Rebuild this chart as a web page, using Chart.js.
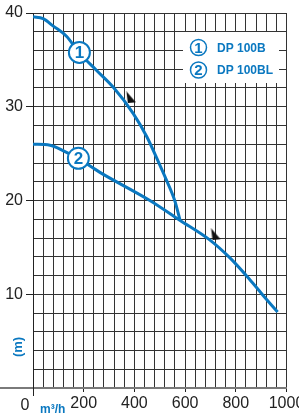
<!DOCTYPE html>
<html>
<head>
<meta charset="utf-8">
<script src="https://cdn.jsdelivr.net/npm/chart.js@4.4.1/dist/chart.umd.min.js"></script>
<style>
html,body{margin:0;padding:0;background:#fff;}
#wrap{position:relative;width:299px;height:417px;}
</style>
</head>
<body>
<div id="wrap"><canvas id="c" width="299" height="417"></canvas></div>
<script>
// ---- data ----
const flow1 = [0, 40, 80, 133, 181, 250, 316, 395, 449, 500, 526, 559, 580];
const head1 = [39.6, 39.4, 38.6, 37.5, 35.8, 33.9, 32.1, 29.3, 26.8, 23.8, 22.2, 20.0, 17.9];
const flow2 = [0, 67, 120, 177, 264, 461, 579, 697, 776, 854, 907, 965];
const head2 = [26.0, 25.9, 25.3, 24.5, 23.0, 20.0, 17.9, 15.8, 13.9, 11.6, 9.9, 8.1];
const seriesNames = ['DP 100B', 'DP 100BL'];
const seriesNumbers = ['1', '2'];
const tagFlow = [183, 179];
const tagHead = [35.8, 24.5];
const arrowFlow = [386, 720];
const arrowHead = [31.0, 16.4];
const xTickLabels = [200, 400, 600, 800, 1000];
const yTickLabels = [10, 20, 30, 40];
const xUnit = 'm³/h';
const yUnit = '(m)';

const BLUE = '#0a78c0';
const FONT = '"Liberation Sans Narrow", "Liberation Sans", sans-serif';

function pts(xs, ys){ return xs.map((x,i)=>({x:x, y:ys[i]})); }

// arrow marker image
const arrowImg = document.createElement('canvas');
arrowImg.width = 12; arrowImg.height = 12;
(function(){
  const g = arrowImg.getContext('2d');
  g.fillStyle = '#111';
  g.beginPath();
  g.moveTo(1.5, 0);
  g.lineTo(11, 11);
  g.lineTo(3, 12);
  g.closePath();
  g.fill();
})();

const overlay = {
  id: 'overlay',
  afterDraw(chart){
    const ctx = chart.ctx;
    const xs = chart.scales.x, ys = chart.scales.y;
    const ca = chart.chartArea;
    ctx.save();
    // axis extension at y=0
    ctx.strokeStyle = '#7a7a7a';
    ctx.lineWidth = 2;
    ctx.beginPath();
    ctx.moveTo(0, ys.getPixelForValue(0));
    ctx.lineTo(ca.left, ys.getPixelForValue(0));
    ctx.stroke();
    ctx.strokeStyle = '#222';
    ctx.lineWidth = 1;
    ctx.beginPath();
    ctx.moveTo(Math.round(xs.getPixelForValue(0)) + 0.5, ys.getPixelForValue(0));
    ctx.lineTo(Math.round(xs.getPixelForValue(0)) + 0.5, ys.getPixelForValue(0) + 8);
    ctx.stroke();

    // zero label and units
    ctx.fillStyle = '#222';
    ctx.font = '16px ' + FONT;
    ctx.textAlign = 'center';
    ctx.textBaseline = 'alphabetic';
    ctx.fillText('0', xs.getPixelForValue(0) - 8, 410);

    ctx.fillStyle = BLUE;
    ctx.font = 'bold 12px ' + FONT;
    ctx.textAlign = 'left';
    ctx.fillText(xUnit, 40, 413);

    ctx.save();
    ctx.translate(22, 347);
    ctx.rotate(-Math.PI/2);
    ctx.textAlign = 'center';
    ctx.font = 'bold 13px ' + FONT;
    ctx.fillText(yUnit, 0, 0);
    ctx.restore();

    // curve tags numbers
    [2,3].forEach((di, k) => {
      const el = chart.getDatasetMeta(di).data[0];
      ctx.fillStyle = BLUE;
      ctx.font = 'bold 17px ' + FONT;
      ctx.textAlign = 'center';
      ctx.textBaseline = 'middle';
      ctx.fillText(seriesNumbers[k], el.x, el.y + 1);
    });

    // legend box
    ctx.fillStyle = '#fff';
    ctx.fillRect(183, 32, 96, 51);
    seriesNames.forEach((name, k) => {
      const cy = 47.5 + k * 22.5;
      ctx.strokeStyle = BLUE;
      ctx.lineWidth = 1.5;
      ctx.beginPath();
      ctx.arc(198.5, cy, 8, 0, Math.PI * 2);
      ctx.stroke();
      ctx.fillStyle = BLUE;
      ctx.font = 'bold 15px ' + FONT;
      ctx.textAlign = 'center';
      ctx.textBaseline = 'middle';
      ctx.fillText(seriesNumbers[k], 198.5, cy + 1);
      ctx.font = 'bold 12px ' + FONT;
      ctx.textAlign = 'left';
      ctx.fillText(name, 217, cy + 1);
    });
    ctx.restore();
  }
};

new Chart(document.getElementById('c'), {
  type: 'line',
  data: {
    datasets: [
      { order: 3, data: pts(flow1, head1), borderColor: BLUE, borderWidth: 3, pointRadius: 0, cubicInterpolationMode: 'monotone', fill: false },
      { order: 3, data: pts(flow2, head2), borderColor: BLUE, borderWidth: 3, pointRadius: 0, cubicInterpolationMode: 'monotone', fill: false },
      { order: 1, type: 'scatter', data: [{x: tagFlow[0], y: tagHead[0]}], pointRadius: 10.5, pointBackgroundColor: '#fff', pointBorderColor: BLUE, pointBorderWidth: 2 },
      { order: 1, type: 'scatter', data: [{x: tagFlow[1], y: tagHead[1]}], pointRadius: 10.5, pointBackgroundColor: '#fff', pointBorderColor: BLUE, pointBorderWidth: 2 },
      { order: 2, type: 'scatter', data: pts(arrowFlow, arrowHead), pointStyle: arrowImg, pointRadius: 6 }
    ]
  },
  options: {
    responsive: false,
    animation: false,
    events: [],
    layout: { padding: { top: 13, right: 12, left: 0, bottom: 0 } },
    plugins: { legend: { display: false }, tooltip: { enabled: false } },
    scales: {
      x: {
        type: 'linear', min: 0, max: 1000,
        afterFit(s){ s.height = 29; s.paddingLeft = 0; s.paddingRight = 0; },
        border: { color: '#7a7a7a', width: 2 },
        grid: {
          color: '#333', lineWidth: 1, tickLength: 4,
          tickColor: c => (xTickLabels.includes(c.tick.value) ? '#222' : 'rgba(0,0,0,0)')
        },
        ticks: {
          stepSize: 40, autoSkip: false, maxRotation: 0, padding: 2,
          color: '#222', font: { family: FONT, size: 16 },
          callback: v => (xTickLabels.includes(v) ? String(v) : '')
        }
      },
      y: {
        type: 'linear', min: 0, max: 40,
        afterFit(s){ s.width = 33; s.paddingTop = 0; s.paddingBottom = 0; },
        border: { color: '#222', width: 1 },
        grid: {
          color: '#333', lineWidth: 1, tickLength: 7,
          tickColor: c => (yTickLabels.includes(c.tick.value) ? '#222' : 'rgba(0,0,0,0)')
        },
        ticks: {
          stepSize: 2, autoSkip: false, padding: 3,
          color: '#222', font: { family: FONT, size: 16 },
          callback: v => (yTickLabels.includes(v) ? String(v) : '')
        }
      }
    }
  },
  plugins: [overlay]
});
</script>
</body>
</html>
